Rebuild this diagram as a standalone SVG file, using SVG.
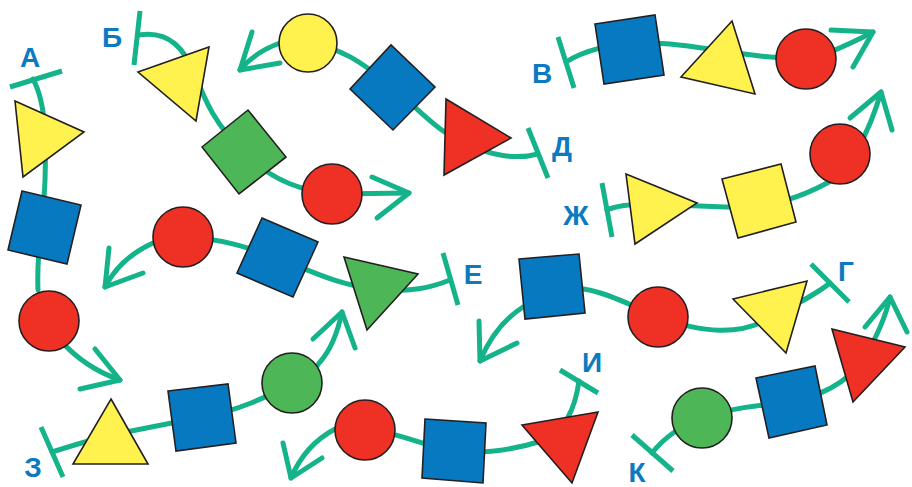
<svg xmlns="http://www.w3.org/2000/svg" width="912" height="487" viewBox="0 0 912 487">
<style>
.ln{fill:none;stroke:#14b38a;stroke-width:5;stroke-linecap:round;stroke-linejoin:round}
.bar{fill:none;stroke:#14b38a;stroke-width:5}
.sh{stroke:#231f20;stroke-width:1.6;stroke-linejoin:miter}
.bl{fill:#0779c1}.ye{fill:#fff24f}.rd{fill:#ee3124}.gr{fill:#4db757}
.lb{font-family:"Liberation Sans",Arial,sans-serif;font-weight:bold;font-size:28px;fill:#0b7ac0;text-anchor:middle}
</style>
<rect width="912" height="487" fill="#fff"/>
<g id="connectors">
<!-- chain A -->
<path class="ln" d="M33,79 C47,105 46,145 45,180 C44,215 36,250 38,290"/>
<path class="ln" d="M60,340 Q85,368 120,380"/>
<polyline class="ln" points="95,349 120,380 80,389"/>
<line class="bar" x1="10" y1="87" x2="62" y2="71"/>
<!-- chain B -->
<path class="ln" d="M139,35 C170,30 185,50 195,75 C205,100 215,125 244,152 C265,175 295,190 332,194 L409,193"/>
<polyline class="ln" points="372,177 409,193 377,218"/>
<line class="bar" x1="140" y1="11" x2="134" y2="65"/>
<!-- chain D -->
<path class="ln" d="M280,43 Q255,52 240,70"/>
<polyline class="ln" points="252,32 240,70 280,63"/>
<path class="ln" d="M308,43 C340,48 360,60 393,88 C420,110 440,135 470,145 C490,155 515,160 538,154"/>
<line class="bar" x1="528" y1="128" x2="548" y2="178"/>
<!-- chain V -->
<path class="ln" d="M566,62 C585,50 610,44 640,43 C680,42 720,52 760,56 C790,59 810,59 830,52 Q850,44 873,32"/>
<polyline class="ln" points="831,30 873,32 853,67"/>
<line class="bar" x1="558" y1="37" x2="574" y2="88"/>
<!-- chain Zh -->
<path class="ln" d="M607,210 Q620,204 650,204 L725,207 C770,208 800,198 829,182 C850,170 870,130 881,92"/>
<polyline class="ln" points="850,118 881,92 892,130"/>
<line class="bar" x1="602" y1="183" x2="612" y2="237"/>
<!-- chain E -->
<path class="ln" d="M153,243 Q120,258 105,287"/>
<polyline class="ln" points="109,248 105,287 143,273"/>
<path class="ln" d="M183,237 C220,238 250,248 277,258 C305,268 335,285 380,290 C410,292 430,288 450,280"/>
<line class="bar" x1="443" y1="253" x2="458" y2="305"/>
<!-- chain Z -->
<path class="ln" d="M52,452 Q90,440 111,435 L202,417 C240,410 265,398 292,383 C305,375 315,370 320,362 Q335,345 342,312"/>
<polyline class="ln" points="313,339 342,312 355,348"/>
<line class="bar" x1="41" y1="427" x2="63" y2="477"/>
<!-- chain G -->
<path class="ln" d="M523,307 Q495,325 480,361"/>
<polyline class="ln" points="479,321 480,361 517,343"/>
<path class="ln" d="M552,286 C595,286 620,300 658,317 C700,332 740,338 775,315 C795,305 815,295 830,283"/>
<line class="bar" x1="811" y1="264" x2="849" y2="302"/>
<!-- chain I -->
<path class="ln" d="M335,429 Q305,445 291,478"/>
<polyline class="ln" points="283,443 291,478 322,458"/>
<path class="ln" d="M365,430 C400,432 420,445 454,451 C490,455 520,448 545,440 C565,430 575,410 579,381"/>
<line class="bar" x1="560" y1="370" x2="598" y2="393"/>
<!-- chain K -->
<path class="ln" d="M652,453 Q670,430 702,418 C730,408 760,405 792,402 C820,395 845,385 863,360 C875,340 885,320 890,297"/>
<polyline class="ln" points="865,327 890,297 907,332"/>
<line class="bar" x1="632" y1="435" x2="673" y2="471"/>
</g>
<g id="nodes">
<g id="a-tri"><polygon class="sh ye" points="15,101 84,132 23,177"/></g>
<g id="a-sq"><polygon class="sh bl" points="22,191 81,205 67,264 8,250"/></g>
<g id="a-circ"><circle class="sh rd" cx="49" cy="321" r="30"/></g>

<g id="b-tri"><polygon class="sh ye" points="138,72 209,47 196,121"/></g>
<g id="b-dia"><polygon class="sh gr" points="202,147 248,110 286,157 239,194"/></g>
<g id="b-circ"><circle class="sh rd" cx="332" cy="194" r="30"/></g>

<g id="d-circ"><circle class="sh ye" cx="308" cy="43" r="29"/></g>
<g id="d-dia"><polygon class="sh bl" points="350,89 391,45 435,87 393,130"/></g>
<g id="d-tri"><polygon class="sh rd" points="446,99 511,138 444,175"/></g>

<g id="v-sq"><polygon class="sh bl" points="595,24 655,15 664,75 604,84"/></g>
<g id="v-tri"><polygon class="sh ye" points="732,21 755,94 681,77"/></g>
<g id="v-circ"><circle class="sh rd" cx="806" cy="59" r="30"/></g>

<g id="zh-tri"><polygon class="sh ye" points="626,174 697,203 635,244"/></g>
<g id="zh-sq"><polygon class="sh ye" points="722,179 781,164 796,222 738,238"/></g>
<g id="zh-circ"><circle class="sh rd" cx="840" cy="154" r="30"/></g>

<g id="e-circ"><circle class="sh rd" cx="183" cy="237" r="30"/></g>
<g id="e-sq"><polygon class="sh bl" points="262,218 318,242 293,297 237,273"/></g>
<g id="e-tri"><polygon class="sh gr" points="344,257 418,274 367,330"/></g>

<g id="z-tri"><polygon class="sh ye" points="111,399 148,464 73,464"/></g>
<g id="z-sq"><polygon class="sh bl" points="168,391 228,384 236,443 176,451"/></g>
<g id="z-circ"><circle class="sh gr" cx="292" cy="383" r="30"/></g>

<g id="g-sq"><polygon class="sh bl" points="519,259 579,254 585,313 525,319"/></g>
<g id="g-circ"><circle class="sh rd" cx="658" cy="317" r="30"/></g>
<g id="g-tri"><polygon class="sh ye" points="733,299 807,281 786,353"/></g>

<g id="i-circ"><circle class="sh rd" cx="365" cy="430" r="30"/></g>
<g id="i-sq"><polygon class="sh bl" points="425,419 486,423 483,483 422,478"/></g>
<g id="i-tri"><polygon class="sh rd" points="522,425 598,412 572,483"/></g>

<g id="k-circ"><circle class="sh gr" cx="702" cy="418" r="30"/></g>
<g id="k-sq"><polygon class="sh bl" points="756,378 815,366 827,425 769,438"/></g>
<g id="k-tri"><polygon class="sh rd" points="832,329 905,347 853,402"/></g>
</g>
<g id="labels">
<text class="lb" x="30" y="67">А</text>
<text class="lb" x="112" y="47">Б</text>
<text class="lb" x="542" y="83">В</text>
<text class="lb" x="562" y="156">Д</text>
<text class="lb" x="576" y="225">Ж</text>
<text class="lb" x="473" y="284">Е</text>
<text class="lb" x="846" y="281">Г</text>
<text class="lb" x="592" y="372">И</text>
<text class="lb" x="33" y="477">З</text>
<text class="lb" x="637" y="482">К</text>
</g>
</svg>
